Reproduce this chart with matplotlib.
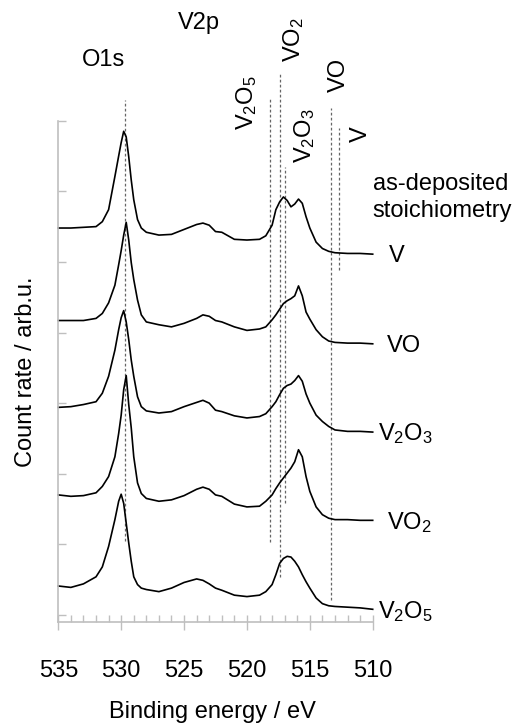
import matplotlib
matplotlib.use("Agg")
import matplotlib.pyplot as plt
from matplotlib.ticker import MultipleLocator

plt.rcParams["font.family"] = ["Liberation Sans", "DejaVu Sans"]
plt.rcParams["mathtext.default"] = "regular"
plt.rcParams["font.size"] = 17

# binding energy grid (eV) the spectra were read on
energy = [
    535, 534, 533, 532, 531.5, 531, 530.5, 530.2, 530, 529.8, 529.6, 529.4,
    529.2, 529, 528.7, 528.4, 528, 527, 526, 525, 524, 523.5, 523, 522.5,
    522, 521, 520, 519, 518.5, 518, 517.7, 517.4, 517.1, 516.8, 516.5,
    516.2, 515.9, 515.6, 515.3, 515, 514.5, 514, 513.5, 513, 512, 511, 510,
]

# stacked spectra (offset included), top to bottom
spec_v = [
    5.48, 5.48, 5.49, 5.50, 5.57, 5.74, 6.21, 6.50, 6.69, 6.85, 6.77, 6.49,
    6.16, 5.88, 5.60, 5.48, 5.42, 5.38, 5.39, 5.46, 5.53, 5.55, 5.52, 5.43,
    5.42, 5.32, 5.31, 5.32, 5.37, 5.52, 5.74, 5.85, 5.92, 5.87, 5.78,
    5.82, 5.89, 5.83, 5.64, 5.48, 5.28, 5.19, 5.15, 5.13, 5.12, 5.12, 5.11,
]
spec_vo = [
    4.17, 4.17, 4.17, 4.20, 4.27, 4.42, 4.67, 4.96, 5.16, 5.38, 5.56, 5.31,
    4.99, 4.75, 4.46, 4.25, 4.15, 4.11, 4.08, 4.13, 4.20, 4.25, 4.23, 4.17,
    4.15, 4.08, 4.03, 4.05, 4.08, 4.18, 4.25, 4.33, 4.41, 4.45, 4.48,
    4.52, 4.66, 4.52, 4.29, 4.19, 4.04, 3.94, 3.88, 3.86, 3.85, 3.85, 3.84,
]
spec_v2o3 = [
    2.94, 2.95, 2.98, 3.02, 3.14, 3.38, 3.75, 4.04, 4.21, 4.31, 4.15, 3.90,
    3.61, 3.38, 3.09, 2.95, 2.89, 2.86, 2.88, 2.95, 3.01, 3.04, 3.00, 2.90,
    2.88, 2.82, 2.79, 2.81, 2.85, 2.95, 3.02, 3.12, 3.21, 3.25, 3.27,
    3.32, 3.39, 3.31, 3.13, 3.00, 2.83, 2.74, 2.67, 2.62, 2.60, 2.60, 2.59,
]
spec_vo2 = [
    1.70, 1.68, 1.69, 1.73, 1.82, 1.96, 2.24, 2.57, 2.83, 3.19, 3.39, 2.98,
    2.65, 2.24, 1.87, 1.72, 1.65, 1.61, 1.63, 1.69, 1.78, 1.81, 1.78, 1.70,
    1.68, 1.57, 1.53, 1.54, 1.61, 1.70, 1.79, 1.87, 1.94, 2.01, 2.08,
    2.17, 2.34, 2.24, 1.96, 1.75, 1.53, 1.42, 1.37, 1.35, 1.35, 1.34, 1.34,
]
spec_v2o5 = [
    0.41, 0.39, 0.44, 0.54, 0.68, 0.97, 1.35, 1.61, 1.71, 1.58, 1.30, 1.02,
    0.76, 0.54, 0.43, 0.38, 0.36, 0.33, 0.38, 0.46, 0.51, 0.49, 0.44, 0.38,
    0.35, 0.28, 0.26, 0.28, 0.33, 0.43, 0.57, 0.73, 0.80, 0.83, 0.82,
    0.76, 0.68, 0.57, 0.47, 0.38, 0.24, 0.16, 0.13, 0.12, 0.11, 0.10, 0.08,
]

sample_labels = ["V", "VO", "$V_2O_3$", "$VO_2$", "$V_2O_5$"]
label_shift = [12, 10, 4, 10, 4]  # points right of the last data point

# reference binding energies (dashed lines) and their vertical extent
ref_energy = [529.7, 518.2, 517.4, 517.0, 513.3, 512.7]
ref_top = [7.29, 7.32, 7.69, 6.35, 7.18, 6.90]
ref_bottom = [1.05, 1.03, 0.54, 1.59, 0.21, 4.89]

ref_labels = ["$V_2O_5$", "$VO_2$", "$V_2O_3$", "VO", "V"]
ref_label_x = [520.05, 516.28, 515.4, 512.7, 510.95]
ref_label_y = [6.87, 7.83, 6.40, 7.41, 6.70]


def create_plot():
    fig = plt.figure(figsize=(5.15, 7.28), dpi=100)
    ax = fig.add_axes([0.1132, 0.1456, 0.6105, 0.6886])

    grey = "#bfbfbf"

    ax.vlines(ref_energy, ref_bottom, ref_top, colors="#666666",
              linewidth=0.9, linestyles=(0, (2.2, 1.8)), clip_on=False,
              zorder=1)

    spectra = [spec_v, spec_vo, spec_v2o3, spec_vo2, spec_v2o5]
    for spec, label, shift in zip(spectra, sample_labels, label_shift):
        ax.plot(energy, spec, color="black", linewidth=1.2, zorder=2,
                clip_on=False)
        ax.annotate(label, xy=(energy[-1], spec[-1]),
                    xytext=(shift, -6), textcoords="offset points",
                    ha="left", va="baseline", annotation_clip=False)

    for text, x, y in zip(ref_labels, ref_label_x, ref_label_y):
        ax.text(x, y, text, rotation=90, ha="center", va="bottom",
                clip_on=False)

    ax.text(533.1, 7.77, "O1s", ha="left", va="baseline")
    ax.text(525.5, 8.30, "V2p", ha="left", va="baseline")
    ax.text(510.0, 6.02, "as-deposited", ha="left", va="baseline")
    ax.text(510.0, 5.64, "stoichiometry", ha="left", va="baseline")

    ax.set_xlim(535, 510)
    ax.set_ylim(-0.1, 7.0)
    ax.xaxis.set_major_locator(MultipleLocator(5))
    ax.xaxis.set_minor_locator(MultipleLocator(1))
    ax.yaxis.set_major_locator(MultipleLocator(1))
    ax.tick_params(axis="x", which="major", direction="inout", length=10.8,
                   width=1, color=grey, pad=22)
    ax.tick_params(axis="x", which="minor", direction="in", length=5,
                   width=1, color=grey)
    ax.tick_params(axis="y", direction="in", length=5.8, width=1,
                   color=grey, labelleft=False)

    for side in ["top", "right"]:
        ax.spines[side].set_visible(False)
    for side in ["left", "bottom"]:
        ax.spines[side].set_color(grey)
        ax.spines[side].set_linewidth(1.2)

    ax.set_xlabel("Binding energy / eV")
    ax.set_ylabel("Count rate / arb.u.")
    ax.xaxis.set_label_coords(0.489, -0.158)
    ax.yaxis.set_label_coords(-0.068, 0.5)

    fig.savefig("out.png", dpi=100)
    plt.close(fig)


if __name__ == "__main__":
    create_plot()
